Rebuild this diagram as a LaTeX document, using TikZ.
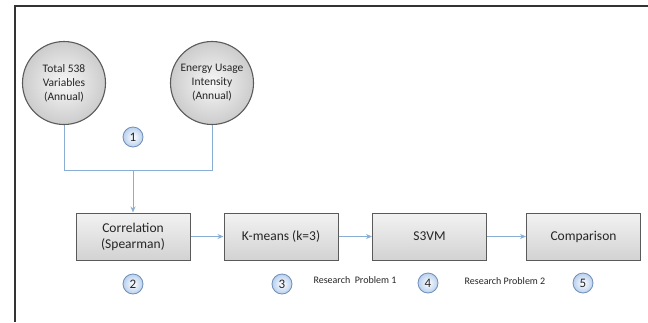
\documentclass[tikz,border=0pt]{standalone}
\usepackage{fontspec}
\setmainfont{Carlito}
\usetikzlibrary{arrows.meta,shadings}
\definecolor{edgegray}{HTML}{5A5A5A}
\definecolor{linkblue}{HTML}{8AAED3}
\definecolor{numblue}{HTML}{B9D0EE}
\definecolor{numedge}{HTML}{6F8FB8}
\tikzset{
  src/.style={circle, draw=edgegray, line width=1.1pt, minimum size=83pt, inner sep=0pt,
    inner color=gray!6, outer color=gray!40, align=center, font=\fontsize{11.5}{14}\selectfont, text=black!85},
  stepbox/.style={rectangle, draw=edgegray, line width=1pt, minimum width=114pt, minimum height=47pt,
    top color=gray!10, bottom color=gray!35, align=center, font=\fontsize{13.5}{16}\selectfont, text=black!85},
  num/.style={circle, draw=numedge, line width=0.8pt, minimum size=20pt, inner sep=0pt,
    inner color=white, outer color=numblue, font=\fontsize{13}{14}\selectfont, text=black!85},
  lbl/.style={font=\fontsize{10}{11}\selectfont, text=black!85},
  link/.style={draw=linkblue, line width=0.9pt},
  arr/.style={link, -{Stealth[length=6pt,width=5pt]}}
}
\begin{document}
\begin{tikzpicture}[x=1pt,y=-1pt]
\useasboundingbox (0,0) rectangle (648,322);
\fill[white] (0,0) rectangle (648,322);
\draw[black!80, line width=1.6pt] (15,322) -- (15,6) -- (648,6);
\node[src] (tv) at (64,83) {Total 538\\Variables\\(Annual)};
\node[src] (eu) at (212,83) {Energy Usage\\Intensity\\(Annual)};
\node[stepbox] (corr) at (133,236.5) {Correlation\\(Spearman)};
\node[stepbox] (km) at (281,236.5) {K-means (k=3)};
\node[stepbox] (svm) at (429.5,236.5) {S3VM};
\node[stepbox] (cmp) at (583.5,236.5) {Comparison};
\coordinate (jl) at (64,170);
\coordinate (jr) at (212,170);
\coordinate (jm) at (133,170);
\draw[link] (tv.south) -- (jl) -- (jr) -- (eu.south);
\draw[arr] (jm) -- (corr.north);
\draw[arr] (corr.east) -- (km.west);
\draw[arr] (km.east) -- (svm.west);
\draw[arr] (svm.east) -- (cmp.west);
\node[num] (n1) at (133,137) {1};
\node[num] (n2) at (133,284) {2};
\node[num] (n3) at (282,284) {3};
\node[num] (n4) at (428,283) {4};
\node[num] (n5) at (583,283) {5};
\node[lbl] (rp1) at (355,280) {Research\ \ Problem 1};
\node[lbl] (rp2) at (505,281) {Research Problem 2};
\end{tikzpicture}
\end{document}
